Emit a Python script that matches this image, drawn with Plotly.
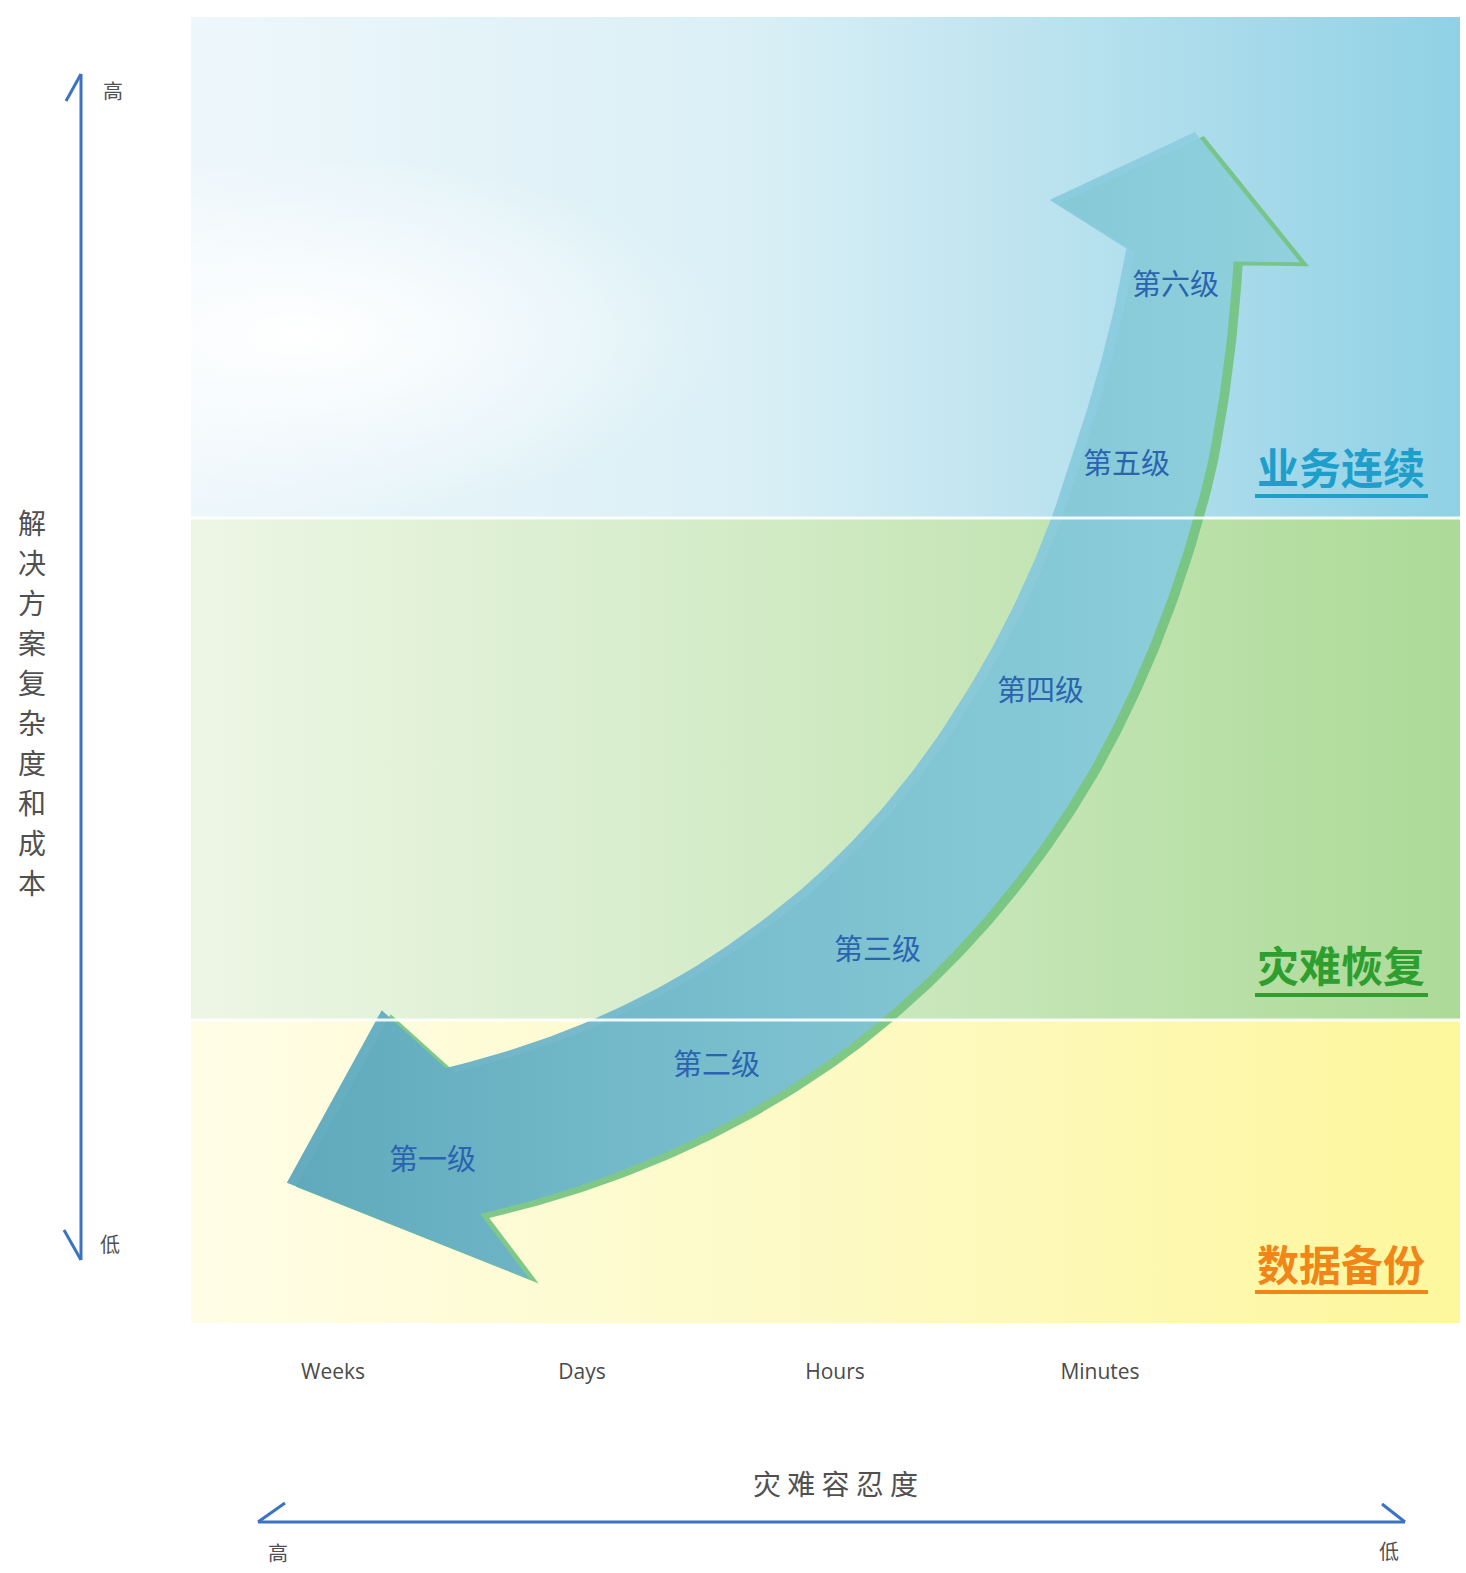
import numpy as np
import plotly.graph_objects as go

# ---------------- data ----------------
band_names = ["业务连续", "灾难恢复", "数据备份"]
band_tops = [17, 518, 1020]
band_bottoms = [518, 1020, 1323]
band_left_colors = ["#eef7fb", "#edf6e5", "#fffde6"]
band_mid_colors = ["#d9eff6", "#d2ebc6", "#fdfac8"]
band_right_colors = ["#90d1e5", "#acda97", "#fdf79d"]
band_label_colors = ["#1e9fcb", "#2e9f2f", "#f08618"]

tick_labels = ["Weeks", "Days", "Hours", "Minutes"]
tick_values = [333, 582, 835, 1100]

level_labels = ["第一级", "第二级", "第三级", "第四级", "第五级", "第六级"]

y_title_chars = list("解决方案复杂度和成本")
x_title = "灾难容忍度"

# arrow centreline (cubic Bezier control points) and width profile
arrow_ctrl_x = [463, 890, 1126, 1180]
arrow_ctrl_y = [1141, 1040, 705, 255]
arrow_width_t = [0, 0.3, 0.6, 0.85, 1]
arrow_width = [150, 152, 146, 132, 108]
# heads in local (along-axis, normal) coordinates
tail_head_along = [0, 49, 181, -33, 0]
tail_head_normal = [-75, -146, 0, 150, 75]
top_head_along = [0, 7, 124, 39, 0]
top_head_normal = [54, 120, 0, -136, -54]

# ---------------- layout constants ----------------
W, H = 1466, 1573
L, R, T, B = 191, 1460, 17, 1323
level_x = [432, 716, 877, 1040, 1126, 1175]
level_y = [1157, 1062, 947, 688, 461, 282]
band_label_y = [465, 963, 1262]
underline_y = [496, 995, 1292]
FONT_CJK = "Noto Sans CJK SC"
GREY = "#505050"
AXIS_BLUE = "#3b72c2"


def px(x):
    return (x - L) / (R - L)


def py(y):
    return (B - y) / (B - T)


# ---------------- arrow geometry ----------------
P = np.array([arrow_ctrl_x, arrow_ctrl_y], dtype=float).T
t = np.linspace(0, 1, 140)[:, None]
curve = ((1 - t) ** 3) * P[0] + 3 * ((1 - t) ** 2) * t * P[1] + 3 * (1 - t) * t ** 2 * P[2] + t ** 3 * P[3]
deriv = 3 * (1 - t) ** 2 * (P[1] - P[0]) + 6 * (1 - t) * t * (P[2] - P[1]) + 3 * t ** 2 * (P[3] - P[2])
tang = deriv / np.linalg.norm(deriv, axis=1, keepdims=True)
norm = np.stack([-tang[:, 1], tang[:, 0]], axis=1)
half = np.interp(t[:, 0], arrow_width_t, arrow_width) / 2
outer = curve + norm * half[:, None]
inner = curve - norm * half[:, None]

C0, T0, N0 = curve[0], tang[0], norm[0]
C1, T1, N1 = curve[-1], tang[-1], norm[-1]
tail = np.array([C0 + a * (-T0) + n * N0 for a, n in zip(tail_head_along, tail_head_normal)])
top = np.array([C1 + a * T1 + n * N1 for a, n in zip(top_head_along, top_head_normal)])

poly = np.vstack([outer, top, inner[::-1], tail, outer[:1]])

fig = go.Figure()

# bands
for top_y, bot_y, cl, cm, cr in zip(band_tops, band_bottoms, band_left_colors, band_mid_colors, band_right_colors):
    fig.add_trace(go.Scatter(
        x=[L, R, R, L, L], y=[top_y, top_y, bot_y, bot_y, top_y],
        mode="lines", fill="toself", line=dict(width=0),
        fillgradient=dict(type="horizontal", colorscale=[[0, cl], [0.45, cm], [1, cr]], start=L, stop=R),
        hoverinfo="skip"))

# soft glow in the upper band
th = np.linspace(0, 2 * np.pi, 100)
fig.add_trace(go.Scatter(
    x=300 + 430 * np.cos(th), y=335 + 182 * np.sin(th),
    mode="lines", fill="toself", line=dict(width=0),
    fillgradient=dict(type="radial", colorscale=[[0, "rgba(255,255,255,1)"], [0.5, "rgba(255,255,255,0.5)"], [1, "rgba(255,255,255,0)"]]),
    hoverinfo="skip"))

# separators
for yy in band_tops[1:]:
    fig.add_shape(type="line", xref="x", yref="y", x0=L, x1=R, y0=yy, y1=yy,
                  line=dict(color="rgba(255,255,255,0.9)", width=3))

# arrow shadow
shadow = poly + np.array([9, 4])
fig.add_trace(go.Scatter(
    x=shadow[:, 0], y=shadow[:, 1], mode="lines", fill="toself", line=dict(width=0),
    fillcolor="rgba(114,194,128,0.9)", hoverinfo="skip"))
# arrow body
fig.add_trace(go.Scatter(
    x=poly[:, 0], y=poly[:, 1], mode="lines", fill="toself", line=dict(width=0),
    fillgradient=dict(type="horizontal",
                      colorscale=[[0, "rgba(94,168,190,0.96)"], [0.5, "rgba(124,192,213,0.93)"], [1, "rgba(146,210,228,0.92)"]],
                      start=290, stop=1300),
    hoverinfo="skip"))

# level labels
for lab, x, y in zip(level_labels, level_x, level_y):
    fig.add_annotation(x=x, y=y, xref="x", yref="y", text=lab, showarrow=False,
                       xanchor="center", yanchor="middle",
                       font=dict(family=FONT_CJK, size=29, color="#2a64b0"))

# band labels + underlines
for name, col, yl, yu in zip(band_names, band_label_colors, band_label_y, underline_y):
    fig.add_annotation(x=1341, y=yl, xref="x", yref="y", text="<b>" + name + "</b>", showarrow=False,
                       xanchor="center", yanchor="middle",
                       font=dict(family=FONT_CJK, size=42, color=col))
    fig.add_shape(type="line", xref="x", yref="y", x0=1255, x1=1428, y0=yu, y1=yu,
                  line=dict(color=col, width=4))


def label(x, y, text, size, color=GREY):
    fig.add_annotation(x=px(x), y=py(y), xref="paper", yref="paper", text=text, showarrow=False,
                       xanchor="center", yanchor="middle",
                       font=dict(family=FONT_CJK, size=size, color=color))


def seg(x0, y0, x1, y1):
    fig.add_shape(type="line", xref="paper", yref="paper", x0=px(x0), x1=px(x1), y0=py(y0), y1=py(y1),
                  line=dict(color=AXIS_BLUE, width=3))


# vertical axis arrow (left)
seg(81, 74, 81, 1260)
seg(81, 74, 66, 101)
seg(81, 1260, 64, 1230)
label(113, 90, "高", 20)
label(110, 1243, "低", 20)
for i, ch in enumerate(y_title_chars):
    label(32, 522 + 40 * i, ch, 28)

# horizontal axis arrow (bottom)
seg(258, 1522, 1405, 1522)
seg(258, 1522, 285, 1503)
seg(1405, 1522, 1382, 1504)
label(835, 1483, " ".join(x_title), 28)
label(278, 1552, "高", 20)
label(1389, 1550, "低", 20)

fig.update_layout(
    width=W, height=H, autosize=False,
    margin=dict(l=L, r=W - R, t=T, b=H - B, pad=0),
    paper_bgcolor="white", plot_bgcolor="white", showlegend=False,
    xaxis=dict(range=[L, R], showgrid=False, zeroline=False, showline=False,
               tickmode="array", tickvals=tick_values, ticktext=tick_labels, ticks="",
               ticklabelstandoff=34,
               tickfont=dict(family="Open Sans", size=21, color="#4a4a4a"), fixedrange=True),
    yaxis=dict(range=[B, T], visible=False, showgrid=False, zeroline=False, fixedrange=True),
)

fig.write_html("out.html")
